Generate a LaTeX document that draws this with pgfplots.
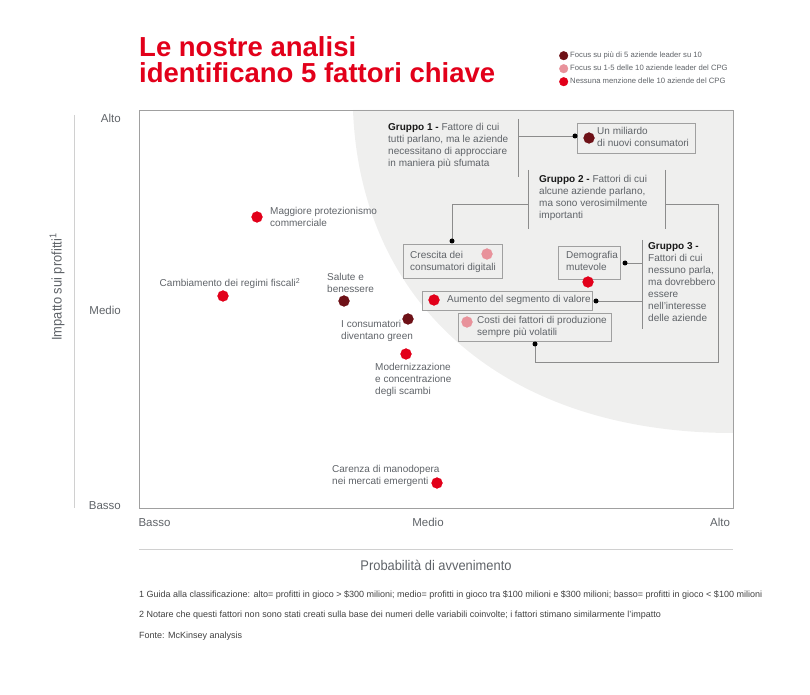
\documentclass[border=0pt]{standalone}
\usepackage{fontspec}
\setmainfont{Liberation Sans}
\newfontfamily\condfont[FakeStretch=0.92]{Liberation Sans}
\usepackage{pgfplots}
\pgfplotsset{compat=1.18}

\definecolor{cDark}{HTML}{6E1117}
\definecolor{cPink}{HTML}{E8929B}
\definecolor{cRed}{HTML}{E2001A}
\definecolor{bgGrey}{HTML}{EFEFEE}
\definecolor{txtGrey}{HTML}{5F6368}
\definecolor{lineGrey}{HTML}{8C8C8C}
\definecolor{axGrey}{HTML}{A0A0A0}
\definecolor{lightLine}{HTML}{D0D0D0}

\begin{document}
\begin{tikzpicture}[
  lab/.style={font=\fontsize{10}{12}\selectfont, text=txtGrey, align=left, inner sep=0pt, anchor=north west},
  conn/.style={draw=lineGrey, line width=0.8pt},
  box/.style={draw=axGrey, line width=0.8pt, fill=bgGrey},
  jdot/.style={fill=black}
]
\begin{axis}[
  x=1pt, y=1pt,
  xmin=139, xmax=733, ymin=187, ymax=585,
  axis on top, clip=false,
  axis line style={draw=axGrey, line width=0.8pt},
  xtick={154.5,428,720}, xticklabels={Basso,Medio,Alto},
  ytick={190,384,576}, yticklabels={Basso,Medio,Alto},
  major tick length=0pt,
  tick label style={font=\fontsize{11.5}{13}\selectfont, text=txtGrey, inner sep=0pt},
  xticklabel style={anchor=base, yshift=-18pt},
  yticklabel style={anchor=base east, xshift=-18pt, yshift=-4pt},
  xlabel={Probabilità di avvenimento},
  xlabel style={at={(axis cs:436,130)}, anchor=center, font=\condfont\fontsize{14}{16}\selectfont, text=txtGrey},
  ylabel={Impatto sui profitti\textsuperscript{1}},
  ylabel style={at={(axis cs:57,408)}, anchor=center, font=\condfont\fontsize{14}{16}\selectfont, text=txtGrey},
  legend style={at={(axis cs:556,647)}, anchor=north west, draw=none, fill=none,
    font=\fontsize{7.7}{9}\selectfont, row sep=2pt,
    nodes={inner sep=2pt, text height=5.5pt, text depth=1.5pt}},
  legend cell align=left,
  legend image code/.code={\fill (0.12cm,0cm) circle (4.3pt);},
]
% background shape
\fill[bgGrey] (axis cs:353,585) .. controls (axis cs:360,395) and (axis cs:500,262) .. (axis cs:733,262) -- (axis cs:733,585) -- cycle;
% page extent
\path (axis cs:0,0) rectangle (axis cs:810,695);
% decorative guide lines
\draw[lightLine, line width=0.8pt] (axis cs:74,580) -- (axis cs:74,187);
\draw[lightLine, line width=0.8pt] (axis cs:139,146) -- (axis cs:733,146);
% boxes
\draw[box] (axis cs:577,572) rectangle (axis cs:695,542);
\draw[box] (axis cs:403,451) rectangle (axis cs:502,417);
\draw[box] (axis cs:558,449) rectangle (axis cs:620,416);
\draw[box] (axis cs:422,404) rectangle (axis cs:592,385);
\draw[box] (axis cs:458,382) rectangle (axis cs:611,354);
% connectors group 1
\draw[conn] (axis cs:518,576) -- (axis cs:518,518);
\draw[conn] (axis cs:518,559) -- (axis cs:575,559);
\fill[jdot] (axis cs:575,559) circle (2.5pt);
% connectors group 2
\draw[conn] (axis cs:528,525) -- (axis cs:528,466);
\draw[conn] (axis cs:665,525) -- (axis cs:665,466);
\draw[conn] (axis cs:528,491) -- (axis cs:452,491) -- (axis cs:452,454);
\fill[jdot] (axis cs:452,454) circle (2.5pt);
\draw[conn] (axis cs:665,491) -- (axis cs:718,491) -- (axis cs:718,333) -- (axis cs:535,333) -- (axis cs:535,351);
\fill[jdot] (axis cs:535,351) circle (2.5pt);
% connectors group 3
\draw[conn] (axis cs:642,455) -- (axis cs:642,366);
\draw[conn] (axis cs:642,432) -- (axis cs:625,432);
\fill[jdot] (axis cs:625,432) circle (2.5pt);
\draw[conn] (axis cs:642,394) -- (axis cs:596,394);
\fill[jdot] (axis cs:596,394) circle (2.5pt);

% data
\addplot[only marks, mark=*, mark size=5.5pt, color=cDark, mark options={draw=cDark, line width=0.2pt, fill=cDark}]
  coordinates {(589,557) (344,394) (408,376)};
\addlegendentry{\textcolor{txtGrey}{Focus su più di 5 aziende leader su 10}}
\addplot[only marks, mark=*, mark size=5.5pt, color=cPink, mark options={draw=cPink, line width=0.2pt, fill=cPink}]
  coordinates {(487,441) (467,373)};
\addlegendentry{\textcolor{txtGrey}{Focus su 1-5 delle 10 aziende leader del CPG}}
\addplot[only marks, mark=*, mark size=5.5pt, color=cRed, mark options={draw=cRed, line width=0.2pt, fill=cRed}]
  coordinates {(588,413) (434,395) (257,478) (223,399) (406,341) (437,212)};
\addlegendentry{\textcolor{txtGrey}{Nessuna menzione delle 10 aziende del CPG}}

% title
\node[anchor=base west, inner sep=0pt, font=\fontsize{27.5}{27.5}\selectfont\bfseries, text=cRed] at (axis cs:139,638) {Le nostre analisi};
\node[anchor=base west, inner sep=0pt, font=\fontsize{27.5}{27.5}\selectfont\bfseries, text=cRed] at (axis cs:139,612) {identificano 5 fattori chiave};

% annotations
\node[lab] at (axis cs:270,488) {Maggiore protezionismo\\commerciale};
\node[lab, anchor=north] at (axis cs:230,417) {Cambiamento dei regimi fiscali\textsuperscript{2}};
\node[lab] at (axis cs:327,422) {Salute e\\benessere};
\node[lab] at (axis cs:341,375) {I consumatori\\diventano green};
\node[lab] at (axis cs:375,332) {Modernizzazione\\e concentrazione\\degli scambi};
\node[lab] at (axis cs:332,230) {Carenza di manodopera\\nei mercati emergenti};
\node[lab] at (axis cs:597,568) {Un miliardo\\di nuovi consumatori};
\node[lab] at (axis cs:410,444) {Crescita dei\\consumatori digitali};
\node[lab] at (axis cs:566,444) {Demografia\\mutevole};
\node[lab] at (axis cs:447,400) {Aumento del segmento di valore};
\node[lab] at (axis cs:477,379) {Costi dei fattori di produzione\\sempre più volatili};
\node[lab] at (axis cs:388,572) {\textcolor{black!90}{\textbf{Gruppo 1 -}} Fattore di cui\\tutti parlano, ma le aziende\\necessitano di approcciare\\in maniera più sfumata};
\node[lab] at (axis cs:539,520) {\textcolor{black!90}{\textbf{Gruppo 2 -}} Fattori di cui\\alcune aziende parlano,\\ma sono verosimilmente\\importanti};
\node[lab] at (axis cs:648,453) {\textcolor{black!90}{\textbf{Gruppo 3 -}}\\Fattori di cui\\nessuno parla,\\ma dovrebbero\\essere\\nell'interesse\\delle aziende};

% footnotes
\node[anchor=base west, inner sep=0pt, font=\fontsize{9}{11}\selectfont, text=black!75] at (axis cs:139,98) {1 Guida alla classificazione: alto= profitti in gioco > \$300 milioni; medio= profitti in gioco tra \$100 milioni e \$300 milioni; basso= profitti in gioco < \$100 milioni};
\node[anchor=base west, inner sep=0pt, font=\fontsize{9}{11}\selectfont, text=black!75] at (axis cs:139,78) {2 Notare che questi fattori non sono stati creati sulla base dei numeri delle variabili coinvolte; i fattori stimano similarmente l'impatto};
\node[anchor=base west, inner sep=0pt, font=\fontsize{9}{11}\selectfont, text=black!75] at (axis cs:139,57) {Fonte: McKinsey analysis};
\end{axis}
\end{tikzpicture}
\end{document}
